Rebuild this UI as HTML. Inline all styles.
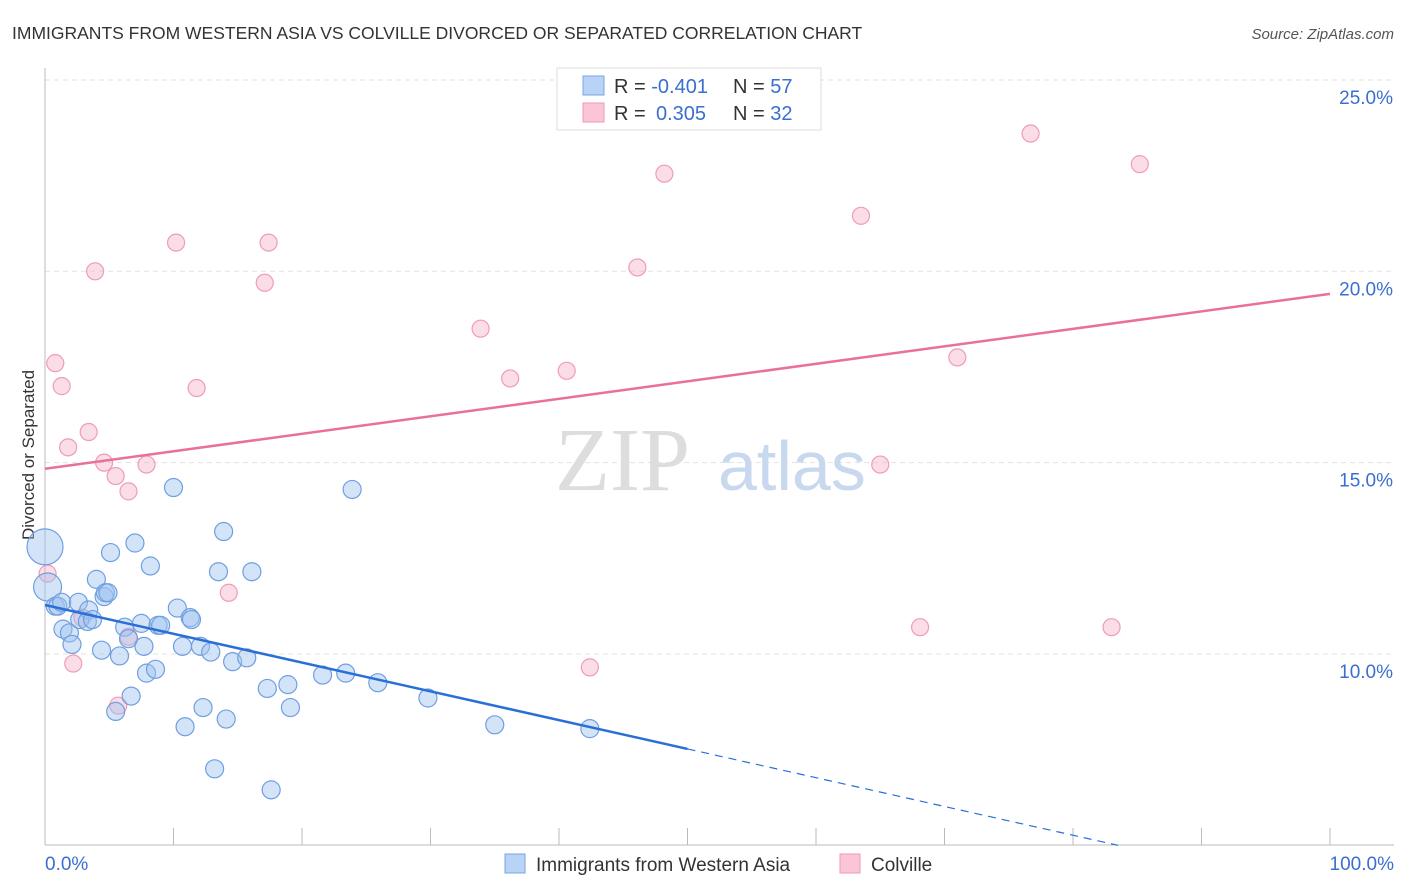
<!DOCTYPE html>
<html><head><meta charset="utf-8"><style>
body{margin:0;background:#fff;font-family:"Liberation Sans",sans-serif;}
svg{display:block}
</style></head><body>
<svg id="chart" width="1406" height="892" xmlns="http://www.w3.org/2000/svg">
<text x="12" y="39" font-size="17.5" fill="#333">IMMIGRANTS FROM WESTERN ASIA VS COLVILLE DIVORCED OR SEPARATED CORRELATION CHART</text>
<text x="1394" y="39" font-size="15" fill="#555" font-style="italic" text-anchor="end">Source: ZipAtlas.com</text>
<text x="34" y="455" font-size="17" fill="#333" text-anchor="middle" transform="rotate(-90 34 455)">Divorced or Separated</text>
<g id="grid"></g>
<g id="ticks"></g>
<text x="555" y="490" font-size="90" fill="#ddd" font-family="Liberation Serif,serif">ZIP</text>
<text x="718" y="490" font-size="70" fill="#c8d8ef">atlas</text>
<g id="pts"></g>
<g id="lines"></g>
<g>
<rect x="557" y="68" width="264" height="62" fill="#fff" stroke="#ddd"/>
<rect x="583" y="76" width="21" height="19" fill="#b8d3f5" stroke="#7aa6e0"/>
<rect x="583" y="103" width="21" height="19" fill="#fac6d6" stroke="#ee9ab5"/>
<text x="614" y="93" font-size="20" fill="#333">R = <tspan fill="#3a6fd0">-0.401</tspan><tspan x="733">N = </tspan><tspan fill="#3a6fd0">57</tspan></text>
<text x="614" y="120" font-size="20" fill="#333">R = <tspan x="656" fill="#3a6fd0">0.305</tspan><tspan x="733">N = </tspan><tspan fill="#3a6fd0">32</tspan></text>
</g>
<g>
<rect x="505" y="854" width="20" height="19" fill="#b8d3f5" stroke="#7aa6e0"/>
<text x="536" y="871" font-size="19" fill="#333">Immigrants from Western Asia</text>
<rect x="840" y="854" width="20" height="19" fill="#fac6d6" stroke="#ee9ab5"/>
<text x="871" y="871" font-size="19" fill="#333">Colville</text>
</g>
</svg>
<script>
const yTicks=[10,15,20,25];
const yTickLabels=["10.0%","15.0%","20.0%","25.0%"];
const xTickLabels=["0.0%","100.0%"];
const blueX=[0,0.2,0.8,1,1.3,2.6,1.4,1.9,2.1,2.7,3.4,3.3,3.7,4,4.6,4.7,4.9,4.4,5.1,5.8,5.5,6.2,6.5,6.7,7,7.5,7.7,7.9,8.2,8.6,8.8,9,10,10.3,10.7,10.9,11.3,11.4,12.1,12.3,12.9,13.2,13.5,13.9,14.1,14.6,15.7,16.1,17.3,17.6,18.9,19.1,21.6,23.4,23.9,25.9,29.8,35,42.4];
const blueY=[12.8,11.75,11.25,11.25,11.35,11.35,10.65,10.55,10.25,10.9,11.15,10.85,10.9,11.95,11.5,11.6,11.6,10.1,12.65,9.95,8.5,10.7,10.4,8.9,12.9,10.8,10.2,9.5,12.3,9.6,10.75,10.75,14.35,11.2,10.2,8.1,10.95,10.9,10.2,8.6,10.05,7.0,12.15,13.2,8.3,9.8,9.9,12.15,9.1,6.45,9.2,8.6,9.45,9.5,14.3,9.25,8.85,8.15,8.05];
const blueR=[18,14,9,9,9,9,9,9,9,9,9,9,9,9,9,9,9,9,9,9,9,9,9,9,9,9,9,9,9,9,9,9,9,9,9,9,9,9,9,9,9,9,9,9,9,9,9,9,9,9,9,9,9,9,9,9,9,9,9];
const pinkX=[0.8,1.3,1.8,3.4,3.9,4.6,5.5,6.5,7.9,10.2,11.8,14.3,17.1,17.4,33.9,36.2,40.6,46.1,48.2,63.5,65,71,76.7,85.2,68.1,83,42.4,6.5,5.7,2.2,0.2,2.9];
const pinkY=[17.6,17,15.4,15.8,20,15,14.65,14.25,14.95,20.75,16.95,11.6,19.7,20.75,18.5,17.2,17.4,20.1,22.55,21.45,14.95,17.75,23.6,22.8,10.7,10.7,9.65,10.45,8.65,9.75,12.1,10.95];
const pinkTrend=[14.84,19.41];
const blueTrend=[11.28,7.52];
const X0=45,X1=1330;
function sx(v){return X0+(X1-X0)*v/100;}
function sy(v){return 654-(v-10)*38.27;}
const NS="http://www.w3.org/2000/svg";
function mk(t,a,p){const e=document.createElementNS(NS,t);for(const k in a)e.setAttribute(k,a[k]);p.appendChild(e);return e;}
const grid=document.getElementById('grid'),ticks=document.getElementById('ticks');
yTicks.forEach((t,i)=>{
 const y=sy(t);
 const g=mk('line',{x1:X0,x2:1394,y1:y,y2:y,stroke:'#e2e2e2','stroke-dasharray':'5,4'},grid);
 
 
 const l=mk('text',{x:1393,y:y+24,'font-size':19,fill:'#3a6fd0','text-anchor':'end'},ticks);
 l.textContent=yTickLabels[i];
 
 
});
const ax=mk('line',{x1:X0,x2:X0,y1:68,y2:845,stroke:'#bbb'},ticks);


const bx=mk('line',{x1:X0,x2:1394,y1:845,y2:845,stroke:'#bbb'},ticks);


for(let i=0;i<=10;i++){const x=sx(i*10);const t=mk('line',{x1:x,x2:x,y1:828,y2:845,stroke:'#bbb'},ticks);
 
 }
[[0,'start',45],[100,'end',1394]].forEach((d,i)=>{const t=mk('text',{x:d[2],y:870,'font-size':19,fill:'#3a6fd0','text-anchor':d[1]},ticks);t.textContent=xTickLabels[i];
 
 });
const pts=document.getElementById('pts');
pinkX.forEach((v,i)=>{const c=mk('circle',{cx:sx(v),cy:sy(pinkY[i]),r:8.5,fill:'rgba(245,170,195,0.4)',stroke:'#ef9cb7','stroke-width':1.2},pts);
 
 });
blueX.forEach((v,i)=>{const c=mk('circle',{cx:sx(v),cy:sy(blueY[i]),r:blueR[i],fill:'rgba(160,195,240,0.45)',stroke:'#6f9fe0','stroke-width':1.2},pts);
 
 });
const lines=document.getElementById('lines');
const pl=mk('line',{x1:sx(0),y1:sy(pinkTrend[0]),x2:sx(100),y2:sy(pinkTrend[1]),stroke:'#e8709a','stroke-width':2.5},lines);


const slope=(blueTrend[1]-blueTrend[0])/50;
const bl=mk('line',{x1:sx(0),y1:sy(blueTrend[0]),x2:sx(50),y2:sy(blueTrend[1]),stroke:'#2a6fd6','stroke-width':2.5},lines);


const xe=50+(5-blueTrend[1])/slope;
const bd=mk('line',{x1:sx(50),y1:sy(blueTrend[1]),x2:sx(xe),y2:sy(5),stroke:'#2a6fd6','stroke-width':1.2,'stroke-dasharray':'8,6'},lines);


</script>
</body></html>
